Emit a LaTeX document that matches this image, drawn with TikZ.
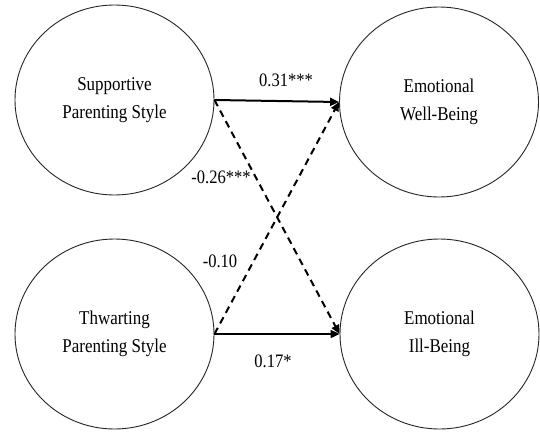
\documentclass[tikz,border=0pt]{standalone}
\usepackage{fontspec}
\setmainfont{Liberation Serif}[FakeStretch=0.87]
\usetikzlibrary{shapes.geometric,arrows.meta}
\begin{document}
\begin{tikzpicture}[x=1pt,y=1pt,
  latent/.style={draw=black!85,line width=0.9pt,ellipse,minimum width=199pt,minimum height=190pt,inner sep=0pt,
    align=center,font=\fontsize{19.5}{28.5}\selectfont},
  path/.style={line width=2pt,-{Triangle[length=9pt,width=8pt]}},
  nsig/.style={path,dash pattern=on 7pt off 5pt},
  coef/.style={font=\fontsize{19}{20}\selectfont,inner sep=0pt}]
\useasboundingbox[fill=white] (0,0) rectangle (540,432);
\node[latent] (sup) at (114.5,332) {Supportive\\Parenting Style};
\node[latent] (thw) at (114.5,98) {Thwarting\\Parenting Style};
\node[latent] (wb) at (439,330) {Emotional\\Well-Being};
\node[latent] (ib) at (439.5,98) {Emotional\\Ill-Being};
\draw[path] (sup.east) -- (wb.west);
\draw[path] (thw.east) -- (ib.west);
\draw[nsig] (sup.east) -- (ib.west);
\draw[nsig] (thw.east) -- (wb.west);
\node[coef] (c1) at (286,352) {0.31***};
\node[coef] (c2) at (221,255) {-0.26***};
\node[coef] (c3) at (220,171) {-0.10};
\node[coef] (c4) at (273,71) {0.17*};
\end{tikzpicture}
\end{document}
